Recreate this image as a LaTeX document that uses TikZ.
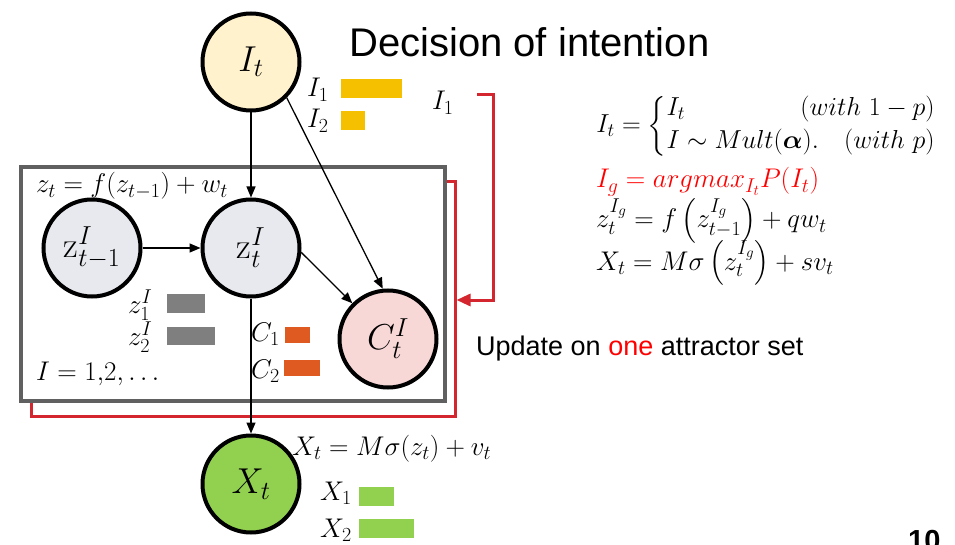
\RequirePackage{fix-cm}
\documentclass[tikz,border=0pt]{standalone}
\usepackage{amsmath}
\usepackage{fontspec}
\newfontfamily\arialf{Liberation Sans}
\usetikzlibrary{arrows.meta}
\DeclareMathSizes{36}{36}{26}{19}
\DeclareMathSizes{27}{27}{20}{15}
\DeclareMathSizes{26}{26}{19}{14}
\definecolor{itfill}{HTML}{FFF2CC}
\definecolor{zfill}{HTML}{E8E9EE}
\definecolor{cfill}{HTML}{F8D7D7}
\definecolor{xfill}{HTML}{92D050}
\definecolor{goldbar}{HTML}{F5C000}
\definecolor{graybar}{HTML}{7F7F7F}
\definecolor{orangebar}{HTML}{DF5A20}
\definecolor{greenbar}{HTML}{92D050}
\definecolor{loopred}{HTML}{D4262E}
\definecolor{boxgray}{HTML}{606060}
\definecolor{eqred}{HTML}{FF0000}
\begin{document}
\begin{tikzpicture}[x=1pt,y=-1pt,
  circ/.style={circle, draw=black, line width=4pt, minimum size=97pt, inner sep=0pt, font=\fontsize{36}{40}\selectfont},
  arr/.style={line width=1.3pt, -{Triangle[length=11pt,width=9pt]}},
  lbl/.style={inner sep=0pt, anchor=base west, font=\fontsize{27}{32}\selectfont},
  eqn/.style={inner sep=0pt, anchor=base west, font=\fontsize{27}{32}\selectfont},
  redline/.style={draw=loopred, line width=3pt},
  sans/.style={inner sep=0pt, anchor=base west, font=\arialf\fontsize{27}{32}\selectfont}
]
\useasboundingbox (0,0) rectangle (955,545);

% red loop behind the plate
\draw[redline] (445,182) -- (455,182) -- (455,416) -- (31,416) -- (31,400);
% plate
\draw[draw=boxgray, line width=4pt] (21,167) rectangle (445,401);

% nodes
\node[circ, fill=itfill] (It) at (251,62) {$I_t$};
\node[circ, fill=zfill] (zt1) at (92,248) {$\mathrm{z}^I_{t-1}$};
\node[circ, fill=zfill] (zt) at (251,248) {$\mathrm{z}^I_{t}$};
\node[circ, fill=cfill] (Ct) at (388,339) {$C^I_t$};
\node[circ, fill=xfill] (Xt) at (251,484) {$X_t$};

% connectors
\draw[arr] (It) -- (zt);
\draw[arr] (It.-45) -- (Ct.96);
\draw[arr] (zt1) -- (zt);
\draw[arr] (zt.-5) -- (Ct.135);
\draw[arr] (zt) -- (Xt);

% red bracket arrow
\coordinate (rbA) at (477,95);
\coordinate (rbB) at (493,95);
\coordinate (rbC) at (493,300);
\coordinate (rbD) at (456.5,300);
\draw[redline, -{Triangle[length=14pt,width=12pt]}] (rbA) -- (rbB) -- (rbC) -- (rbD);

% title and captions
\node[inner sep=0pt, anchor=base west, font=\arialf\fontsize{40}{48}\selectfont] (title) at (349,57) {Decision of intention};
\node[sans] (upd) at (476,355) {Update on \textcolor{eqred}{one} attractor set};
\node[inner sep=0pt, anchor=north west, font=\arialf\bfseries\fontsize{29}{34}\selectfont] (pg) at (908,530) {10};

% bar labels and bars
\node[lbl] (lI1) at (307,97) {$I_1$};
\node[lbl] (lI2) at (307,128) {$I_2$};
\fill[goldbar] (341,79) rectangle (402,98);
\fill[goldbar] (341,111) rectangle (365,130);
\node[lbl] (lI1b) at (432,110) {$I_1$};

\node[lbl] (lz1) at (128,313) {$z^I_1$};
\node[lbl] (lz2) at (128,345) {$z^I_2$};
\fill[graybar] (167,294) rectangle (205,313);
\fill[graybar] (167,327) rectangle (215,345);

\node[lbl] (lC1) at (251,341) {$C_1$};
\node[lbl] (lC2) at (251,378) {$C_2$};
\fill[orangebar] (285,327) rectangle (310,343);
\fill[orangebar] (284,360) rectangle (320,376);

\node[lbl] (lX1) at (320,500) {$X_1$};
\node[lbl] (lX2) at (320,537) {$X_2$};
\fill[greenbar] (359,487) rectangle (394,506);
\fill[greenbar] (359,519) rectangle (414,538);

% equations on the diagram
\node[lbl] (eqz) at (36,193) {$z_t = f(z_{t-1}) + w_t$};
\node[lbl] (eqI) at (36,380) {$I = 1{,}2, \ldots$};
\node[lbl] (eqX) at (292,455) {$X_t = M\sigma(z_t) + v_t$};

% equations on the right
\node[inner sep=0pt, anchor=east, font=\fontsize{26}{31}\selectfont] (eq1) at (936,126)
  {$I_t = \left\{\begin{array}{@{}l@{}}
     \makebox[268pt]{$I_t\hfill(with\ 1-p)$}\\[2pt]
     \makebox[268pt]{$I \sim Mult(\boldsymbol{\alpha}).\hfill(with\ p)$}
   \end{array}\right.$};
\node[eqn, text=eqred] (eq2) at (596,188) {$I_g = argmax_{I_t} P(I_t)$};
\node[eqn] (eq3) at (596,228) {$z^{I_g}_t = f\left(z^{I_g}_{t-1}\right) + qw_t$};
\node[eqn] (eq4) at (596,270) {$X_t = M\sigma\left(z^{I_g}_t\right) + sv_t$};
\end{tikzpicture}
\end{document}
